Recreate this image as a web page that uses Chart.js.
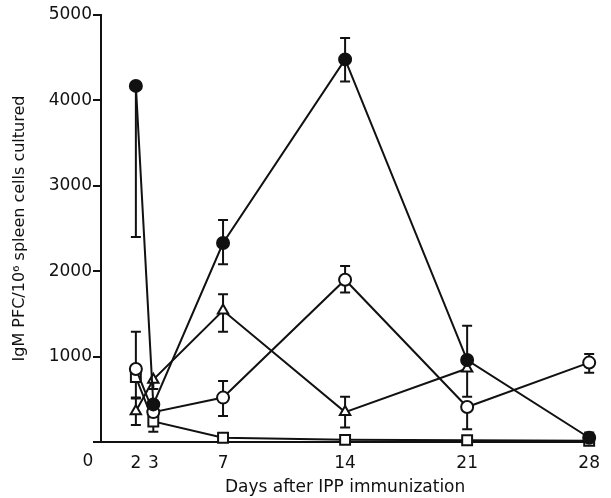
<!DOCTYPE html>
<html>
<head>
<meta charset="utf-8">
<script src="https://cdn.jsdelivr.net/npm/chart.js@4"></script>
<style>
    html, body { margin: 0; padding: 0; background: #ffffff; }
    #wrap { width: 611px; height: 498px; }
</style>
</head>
<body>
<div id="wrap"><canvas id="pfcChart"></canvas></div>
<script>
// 데이터
const days = [2, 3, 7, 14, 21, 28];
const triDays = [2, 3, 7, 14, 21];
const xTickValues = [2, 3, 7, 14, 21, 28];
const yTickValues = [0, 1000, 2000, 3000, 4000, 5000];

const filledVals = [4170, 440, 2330, 4480, 960, 50];
const filledHigh = [null, null, 2600, 4730, 1360, 110];
const filledLow = [2400, null, 2080, 4220, null, null];

const openVals = [855, 350, 520, 1900, 410, 930];
const openHigh = [1290, null, 715, 2060, null, 1030];
const openLow = [null, null, 305, 1750, 150, 810];

const triVals = [360, 730, 1540, 350, 860];
const triHigh = [510, null, 1730, 530, null];
const triLow = [200, 620, 1290, 170, 530];

const squareVals = [760, 240, 50, 25, 20, 15];
const squareHigh = [null, null, null, null, null, null];
const squareLow = [520, 120, null, null, null, null];

const FONT = '"DejaVu Sans", sans-serif';
const INK = '#111111';

function toPoints(xs, ys) {
    return xs.map((x, i) => ({ x: x, y: ys[i] }));
}

// 에러바 (스케일을 통해 그림)
const errorBars = {
    id: 'errorBars',
    beforeDatasetsDraw(chart) {
        const ctx = chart.ctx;
        const xs = chart.scales.x;
        const ys = chart.scales.y;
        ctx.save();
        ctx.strokeStyle = INK;
        ctx.lineWidth = 2;
        chart.data.datasets.forEach(ds => {
            ds.data.forEach((p, i) => {
                const px = xs.getPixelForValue(p.x);
                const py = ys.getPixelForValue(p.y);
                [ds.errHigh[i], ds.errLow[i]].forEach(v => {
                    if (v === null || v === undefined) return;
                    const ey = ys.getPixelForValue(v);
                    ctx.beginPath();
                    ctx.moveTo(px, py);
                    ctx.lineTo(px, ey);
                    ctx.moveTo(px - 5, ey);
                    ctx.lineTo(px + 5, ey);
                    ctx.stroke();
                });
            });
        });
        ctx.restore();
    },
    afterDraw(chart) {
        // 원점 "0" 라벨
        const ctx = chart.ctx;
        const xs = chart.scales.x;
        ctx.save();
        ctx.fillStyle = INK;
        ctx.font = '17px ' + FONT;
        ctx.textAlign = 'center';
        ctx.textBaseline = 'middle';
        ctx.fillText('0', xs.getPixelForValue(0) - 13, 462);
        ctx.restore();
    }
};

const baseSet = {
    borderColor: INK,
    borderWidth: 2,
    pointBorderColor: INK,
    pointBorderWidth: 2,
    pointRadius: 6,
    pointHoverRadius: 6,
    tension: 0,
    fill: false,
    clip: false
};

// 첫 번째 데이터셋이 맨 위에 그려짐
new Chart(document.getElementById('pfcChart'), {
    type: 'line',
    data: {
        datasets: [
            Object.assign({}, baseSet, {
                label: 'filled circle',
                data: toPoints(days, filledVals),
                errHigh: filledHigh,
                errLow: filledLow,
                pointStyle: 'circle',
                pointBackgroundColor: INK
            }),
            Object.assign({}, baseSet, {
                label: 'open circle',
                data: toPoints(days, openVals),
                errHigh: openHigh,
                errLow: openLow,
                pointStyle: 'circle',
                pointBackgroundColor: '#ffffff'
            }),
            Object.assign({}, baseSet, {
                label: 'open triangle',
                data: toPoints(triDays, triVals),
                errHigh: triHigh,
                errLow: triLow,
                pointStyle: 'triangle',
                pointBackgroundColor: '#ffffff'
            }),
            Object.assign({}, baseSet, {
                label: 'open square',
                data: toPoints(days, squareVals),
                errHigh: squareHigh,
                errLow: squareLow,
                pointStyle: 'rect',
                pointRadius: 7,
                pointBackgroundColor: '#ffffff'
            })
        ]
    },
    options: {
        responsive: true,
        maintainAspectRatio: false,
        animation: false,
        events: [],
        layout: {
            padding: { left: 0, top: 15, right: 21, bottom: 0 }
        },
        plugins: {
            legend: { display: false },
            tooltip: { enabled: false }
        },
        scales: {
            x: {
                type: 'linear',
                min: 0,
                max: 28,
                afterBuildTicks: s => { s.ticks = xTickValues.map(v => ({ value: v })); },
                afterFit: s => { s.height = 56; },
                grid: { display: false, drawTicks: false },
                border: { display: true, color: INK, width: 2 },
                ticks: {
                    color: INK,
                    padding: 11,
                    maxRotation: 0,
                    font: { family: FONT, size: 17 }
                },
                title: {
                    display: true,
                    text: 'Days after IPP immunization',
                    color: INK,
                    padding: { top: 0, bottom: 0 },
                    font: { family: FONT, size: 17 }
                }
            },
            y: {
                type: 'linear',
                min: 0,
                max: 5000,
                afterBuildTicks: s => { s.ticks = yTickValues.map(v => ({ value: v })); },
                afterFit: s => { s.width = 101; },
                grid: {
                    drawOnChartArea: false,
                    drawTicks: true,
                    tickLength: 8,
                    color: INK,
                    lineWidth: 2
                },
                border: { display: true, color: INK, width: 2 },
                ticks: {
                    color: INK,
                    padding: 1,
                    font: { family: FONT, size: 17 },
                    callback: v => (v === 0 ? '' : String(v))
                },
                title: {
                    display: true,
                    text: 'IgM PFC/10⁶ spleen cells cultured',
                    color: INK,
                    padding: { top: 10, bottom: 4 },
                    font: { family: FONT, size: 16 }
                }
            }
        }
    },
    plugins: [errorBars]
});
</script>
</body>
</html>
